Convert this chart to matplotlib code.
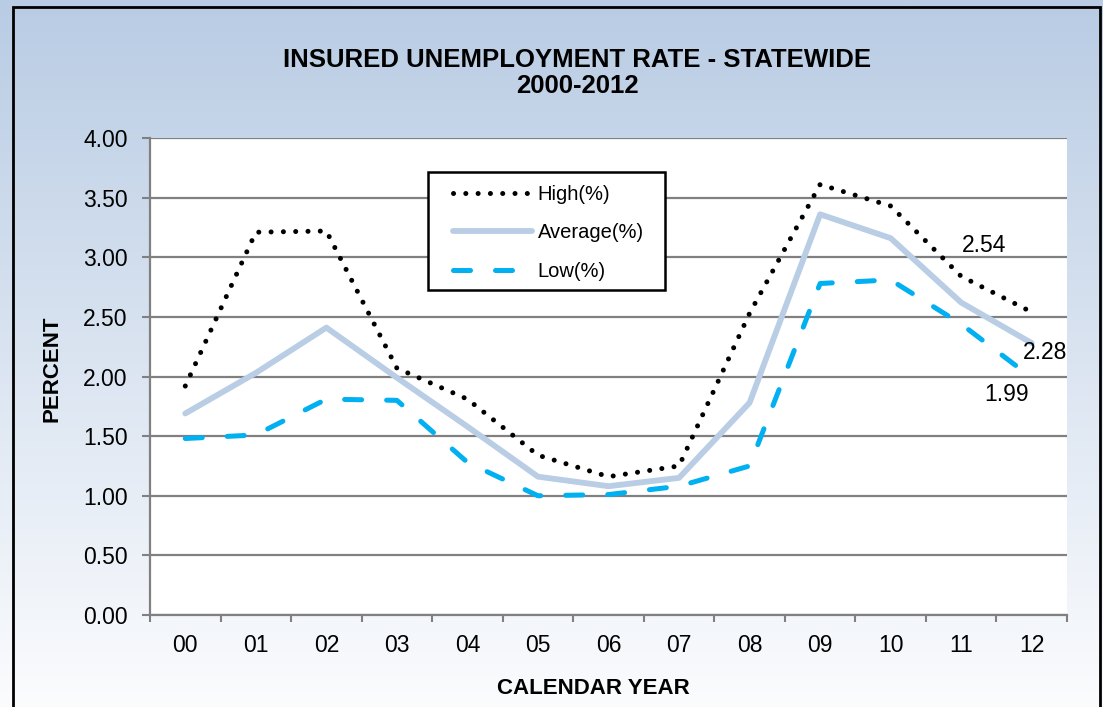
import numpy as np
import matplotlib.pyplot as plt
from matplotlib.patches import Rectangle

years = ['00', '01', '02', '03', '04', '05', '06', '07', '08', '09', '10', '11', '12']
high = [1.92, 3.21, 3.22, 2.07, 1.81, 1.34, 1.16, 1.25, 2.53, 3.61, 3.43, 2.84, 2.54]
average = [1.69, 2.03, 2.41, 1.99, 1.58, 1.16, 1.08, 1.15, 1.78, 3.36, 3.16, 2.62, 2.28]
low = [1.48, 1.51, 1.81, 1.80, 1.28, 1.00, 1.01, 1.08, 1.25, 2.78, 2.81, 2.44, 1.99]

plt.rcParams['font.family'] = ['Liberation Sans', 'DejaVu Sans']

W, H = 1103, 707
fig = plt.figure(figsize=(W / 100, H / 100), dpi=100)

# gradient background behind everything
bg = fig.add_axes([0, 0, 1, 1], zorder=-10)
top = np.array([0.725, 0.800, 0.894])
bottom = np.array([0.985, 0.988, 0.995])
t = np.linspace(0, 1, 256)[:, None]
grad = top * (1 - t) + bottom * t
bg.imshow(grad[:, None, :].repeat(2, axis=1), aspect='auto', extent=[0, 1, 0, 1])
bg.set_axis_off()
fig.patches.append(Rectangle((13 / W, -0.02), 1087 / W, 1.02 - 7 / H,
                             transform=fig.transFigure, fill=False,
                             edgecolor='black', lw=2, zorder=5))

# plot area in pixels: x 150..1067, y 138..615
L, R, T, B = 150, 1067, 138, 615
ax = fig.add_axes([L / W, 1 - B / H, (R - L) / W, (B - T) / H])
ax.set_facecolor('white')
x = np.arange(len(years))

ax.plot(x, high, color='black', lw=3.6, linestyle=(0, (0.01, 2.45)),
        dash_capstyle='round', label='High(%)', zorder=4)
ax.plot(x, average, color='#B9CDE5', lw=4.2, solid_capstyle='round',
        label='Average(%)', zorder=3)
ax.plot(x, low, color='#00B0F0', lw=3.6, linestyle=(0, (3.4, 5.0)),
        dash_capstyle='round', label='Low(%)', zorder=3)

ax.text(x[-1] - 0.67, high[-1] + 0.56, f'{high[-1]:.2f}', fontsize=16.5,
        ha='center', va='center')
ax.text(x[-1] + 0.19, average[-1] - 0.075, f'{average[-1]:.2f}', fontsize=16.5,
        ha='center', va='center')
ax.text(x[-1] - 0.36, low[-1] - 0.145, f'{low[-1]:.2f}', fontsize=16.5,
        ha='center', va='center')

ax.set_xlim(-0.5, 12.5)
ax.set_ylim(0, 4)
yt = np.arange(0, 4.01, 0.5)
ax.set_yticks(yt)
ax.set_yticklabels([f'{v:.2f}' for v in yt])
ax.set_xticks(x)
ax.set_xticklabels(years)
ax.set_xticks(np.arange(-0.5, 12.6, 1), minor=True)
ax.tick_params(axis='x', which='major', length=0, pad=14, labelsize=16.5)
ax.tick_params(axis='x', which='minor', length=5, color='#808080', width=1.5)
ax.tick_params(axis='y', length=6, color='#808080', width=1.5, pad=10, labelsize=16.5)
ax.grid(axis='y', color='#808080', lw=1.6)
ax.set_axisbelow(True)
for side in ['top', 'right']:
    ax.spines[side].set_visible(False)
for side in ['left', 'bottom']:
    ax.spines[side].set_color('#808080')
    ax.spines[side].set_linewidth(1.6)

fig.text(52 / W, 1 - 369 / H, 'PERCENT', rotation=90, ha='center', va='center',
         fontsize=16, fontweight='bold')
fig.text(593 / W, 1 - 688 / H, 'CALENDAR YEAR', ha='center', va='center',
         fontsize=16, fontweight='bold')

fig.text(577 / W, 1 - 73 / H, 'INSURED UNEMPLOYMENT RATE - STATEWIDE\n2000-2012',
         ha='center', va='center', fontsize=18.5, fontweight='bold', linespacing=1.1)

# legend box drawn separately so its padding can be set per side
def ax_xy(px, py):
    return (px - L) / (R - L), (B - py) / (B - T)

box_x, box_y = ax_xy(428, 290)
ax.add_patch(Rectangle((box_x, box_y), 237 / (R - L), 118 / (B - T),
                       transform=ax.transAxes, facecolor='white',
                       edgecolor='black', lw=1.8, zorder=5))
leg = ax.legend(loc='upper left', bbox_to_anchor=ax_xy(453, 185), frameon=False,
                fontsize=14.5, handlelength=3.9, labelspacing=0.96,
                borderpad=0, borderaxespad=0, handletextpad=0.3)
leg.set_zorder(6)

fig.savefig('out.png', dpi=100)
